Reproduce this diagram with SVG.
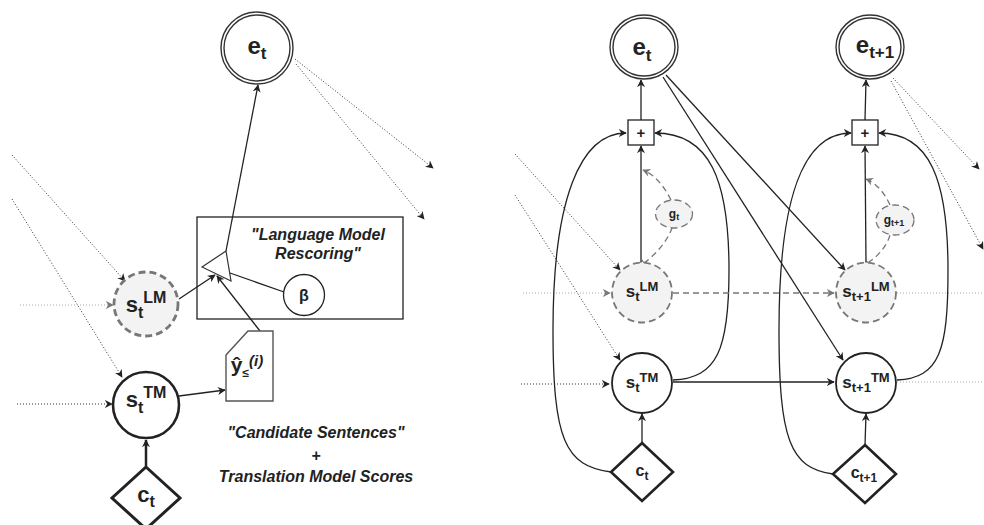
<svg xmlns="http://www.w3.org/2000/svg" width="984" height="525" viewBox="0 0 984 525">
<defs>
<marker id="a" viewBox="0 0 10 10" refX="9" refY="5" markerWidth="8" markerHeight="8" orient="auto" markerUnits="userSpaceOnUse"><path d="M0,0 L10,5 L0,10 L3,5 z" fill="#222"/></marker>
<marker id="ag" viewBox="0 0 10 10" refX="9" refY="5" markerWidth="8" markerHeight="8" orient="auto" markerUnits="userSpaceOnUse"><path d="M0,0 L10,5 L0,10 L3,5 z" fill="#777"/></marker>
<marker id="tee" viewBox="0 0 10 10" refX="5" refY="5" markerWidth="8" markerHeight="8" orient="auto" markerUnits="userSpaceOnUse"><path d="M5,0 L5,10" stroke="#666" stroke-width="1.5"/></marker>
<style>
text{font-family:"Liberation Sans",Arial,sans-serif;font-weight:bold;fill:#222;text-anchor:middle}
.it{font-style:italic}
.ln{fill:none;stroke:#222;stroke-width:1.3}
.thk{fill:none;stroke:#222;stroke-width:2.5}
.dot{fill:none;stroke:#333;stroke-width:1;stroke-dasharray:1 2}
.dotl{fill:none;stroke:#aaa;stroke-width:1.2;stroke-dasharray:1 2}
.dash{fill:none;stroke:#777;stroke-width:1.3;stroke-dasharray:6 4}
.dcirc{fill:#f3f3f3;stroke:#777;stroke-dasharray:7 4}
.ecirc{fill:#fff;stroke:#333;stroke-width:1.4}
.node{fill:#fff;stroke:#222}
</style>
</defs>

<g id="connectors">
<!-- left panel -->
<path class="dot" d="M295,59 L433,168" marker-end="url(#a)"/>
<path class="dot" d="M296,64 L424,219" marker-end="url(#a)"/>
<path class="dot" d="M12,155 L125,281" marker-end="url(#a)"/>
<path class="dot" d="M12,199 L122,377" marker-end="url(#a)"/>
<path class="dotl" d="M20,305 L113,305" marker-end="url(#ag)"/>
<path class="dot" d="M17,404 L112,404" marker-end="url(#a)"/>
<path class="ln" d="M226,251 L258,85" marker-end="url(#a)"/>
<path class="ln" d="M179,299 L215,275" marker-end="url(#a)"/>
<path class="ln" d="M260,331 L217,276" marker-end="url(#a)"/>
<path class="ln" d="M284,292 L230,273"/>
<path class="ln" d="M179,396 L225,390" marker-end="url(#a)"/>
<path class="thk" d="M146,466 L146,440" marker-end="url(#a)"/>

<!-- right panel -->
<path class="dot" d="M515,154 L620,270" marker-end="url(#a)"/>
<path class="dot" d="M515,195 L620,360" marker-end="url(#a)"/>
<path class="dotl" d="M523,293 L610,293" marker-end="url(#ag)"/>
<path class="dot" d="M521,384 L609,384" marker-end="url(#a)"/>
<path class="dotl" d="M897,293 L984,293"/>
<path class="dotl" d="M897,382 L984,382"/>
<path class="dot" d="M893,78 L979,169" marker-end="url(#a)"/>
<path class="dot" d="M891,81 L983,249" marker-end="url(#a)"/>

<path class="ln" d="M641,120 L641,80" marker-end="url(#a)"/>
<path class="ln" d="M641,263 L641,146" marker-end="url(#a)"/>
<path class="ln" d="M865,120 L866,80" marker-end="url(#a)"/>
<path class="ln" d="M866,263 L865,146" marker-end="url(#a)"/>

<path class="ln" d="M611,472 C565,466 553,440 553,330 C553,200 580,133 626,133" marker-end="url(#a)"/>
<path class="ln" d="M673,380 C717,378 729,350 729,270 C729,180 710,133 655,133" marker-end="url(#a)"/>
<path class="ln" d="M833,474 C790,468 779,440 779,330 C779,200 802,133 851,133" marker-end="url(#a)"/>
<path class="ln" d="M897,380 C940,378 948,350 948,270 C948,180 930,133 879,133" stroke-width="1.8" marker-end="url(#a)"/>

<path class="dash" d="M644,263 C655,255 667,242 672,228" marker-start="url(#tee)"/>
<path class="dash" d="M671,200 C664,186 655,175 643,170" marker-end="url(#ag)"/>
<path class="dash" d="M868,263 C878,256 887,246 890,235" marker-start="url(#tee)"/>
<path class="dash" d="M890,205 C884,192 876,183 866,179" marker-end="url(#ag)"/>

<path class="ln" d="M666,75 L845,270" marker-end="url(#a)"/>
<path class="ln" d="M663,77 L843,360" marker-end="url(#a)"/>
<path class="dash" d="M673,293 L834,293" marker-end="url(#ag)"/>
<path class="ln" d="M673,382 L834,382" marker-end="url(#a)"/>
<path class="ln" d="M642,443 L642,414" marker-end="url(#a)"/>
<path class="ln" d="M865,445 L866,414" marker-end="url(#a)"/>
</g>

<!-- left panel nodes -->
<g id="e_t_left">
<circle class="ecirc" cx="257" cy="48" r="36"/>
<circle class="ecirc" cx="257" cy="48" r="33"/>
<text x="257" y="54" font-size="24">e<tspan font-size="17" dy="5">t</tspan></text>
</g>
<g id="rescoring_box">
<rect x="197" y="217" width="206" height="102" fill="none" stroke="#222" stroke-width="1.3"/>
<text class="it" x="318" y="240" font-size="16">"Language Model</text>
<text class="it" x="318" y="259" font-size="16">Rescoring"</text>
</g>
<g id="combine_triangle">
<polygon points="202,267 226,251 231,281" fill="#fff" stroke="#333" stroke-width="1.2"/>
</g>
<g id="beta">
<circle class="node" cx="304" cy="295" r="20.5" stroke-width="1.3"/>
<text x="304" y="301" font-size="16">β</text>
</g>
<g id="s_LM_left">
<circle class="dcirc" cx="146" cy="304" r="32" stroke-width="2.8"/>
<text x="146" y="312" font-size="22">s<tspan font-size="16" dy="6">t</tspan><tspan font-size="16" dy="-15">LM</tspan></text>
</g>
<g id="s_TM_left">
<circle class="node" cx="146" cy="405" r="33" stroke-width="2.6"/>
<text x="146" y="407" font-size="22">s<tspan font-size="16" dy="6">t</tspan><tspan font-size="16" dy="-15">TM</tspan></text>
</g>
<g id="c_t_left">
<polygon class="node" points="146,467 180,498 146,529 112,498" stroke-width="3"/>
<text x="146" y="502" font-size="22">c<tspan font-size="16" dy="5">t</tspan></text>
</g>
<g id="candidate_doc">
<polygon points="226,355 248,331 273,331 273,401 226,401" fill="#fff" stroke="#555" stroke-width="1.4"/>
<text x="247" y="372" font-size="21">ŷ<tspan font-size="12" dy="5">≤</tspan><tspan class="it" font-size="15" dy="-11">(i)</tspan></text>
</g>
<g id="candidate_label">
<text class="it" x="316" y="438" font-size="16">"Candidate Sentences"</text>
<text class="it" x="316" y="461" font-size="16">+</text>
<text class="it" x="316" y="482" font-size="16">Translation Model Scores</text>
</g>

<!-- right panel nodes -->
<g id="e_t_right">
<ellipse class="ecirc" cx="644" cy="47" rx="34" ry="32"/>
<ellipse class="ecirc" cx="644" cy="47" rx="31" ry="29"/>
<text x="642" y="55" font-size="24">e<tspan font-size="17" dy="6">t</tspan></text>
</g>
<g id="e_t1_right">
<ellipse class="ecirc" cx="870" cy="47" rx="34" ry="32"/>
<ellipse class="ecirc" cx="870" cy="47" rx="31" ry="29"/>
<text x="875" y="53" font-size="24">e<tspan font-size="17" dy="5">t+1</tspan></text>
</g>
<g id="plus_t">
<rect class="node" x="628" y="120" width="26" height="25" stroke-width="1.3"/>
<text x="641" y="138" font-size="15">+</text>
</g>
<g id="plus_t1">
<rect class="node" x="852" y="120" width="26" height="25" stroke-width="1.3"/>
<text x="865" y="138" font-size="15">+</text>
</g>
<g id="g_t">
<ellipse class="dcirc" cx="674" cy="214" rx="18.5" ry="14" stroke-width="1.3" stroke-dasharray="4 3"/>
<text x="674" y="218" font-size="12" fill="#444">g<tspan font-size="9" dy="2">t</tspan></text>
</g>
<g id="g_t1">
<ellipse class="dcirc" cx="895" cy="220" rx="19" ry="15" stroke-width="1.3" stroke-dasharray="4 3"/>
<text x="894" y="224" font-size="12" fill="#444">g<tspan font-size="9" dy="2">t+1</tspan></text>
</g>
<g id="s_LM_t">
<circle class="dcirc" cx="642" cy="292.5" r="30" stroke-width="1.8"/>
<text x="642" y="297" font-size="17">s<tspan font-size="13" dy="4">t</tspan><tspan font-size="13" dy="-10">LM</tspan></text>
</g>
<g id="s_LM_t1">
<circle class="dcirc" cx="866" cy="292.5" r="30" stroke-width="1.8"/>
<text x="866" y="297" font-size="17">s<tspan font-size="13" dy="4">t+1</tspan><tspan font-size="13" dy="-10">LM</tspan></text>
</g>
<g id="s_TM_t">
<circle class="node" cx="642" cy="383" r="30" stroke-width="1.8"/>
<text x="642" y="388" font-size="17">s<tspan font-size="13" dy="4">t</tspan><tspan font-size="13" dy="-10">TM</tspan></text>
</g>
<g id="s_TM_t1">
<circle class="node" cx="866" cy="383" r="30" stroke-width="1.8"/>
<text x="866" y="388" font-size="17">s<tspan font-size="13" dy="4">t+1</tspan><tspan font-size="13" dy="-10">TM</tspan></text>
</g>
<g id="c_t_right">
<polygon class="node" points="642,443 673,472 642,501 611,472" stroke-width="2.6"/>
<text x="642" y="476" font-size="16">c<tspan font-size="12" dy="4">t</tspan></text>
</g>
<g id="c_t1_right">
<polygon class="node" points="865,445 896,474 865,503 833,474" stroke-width="2.6"/>
<text x="864" y="478" font-size="16">c<tspan font-size="12" dy="4">t+1</tspan></text>
</g>
</svg>
